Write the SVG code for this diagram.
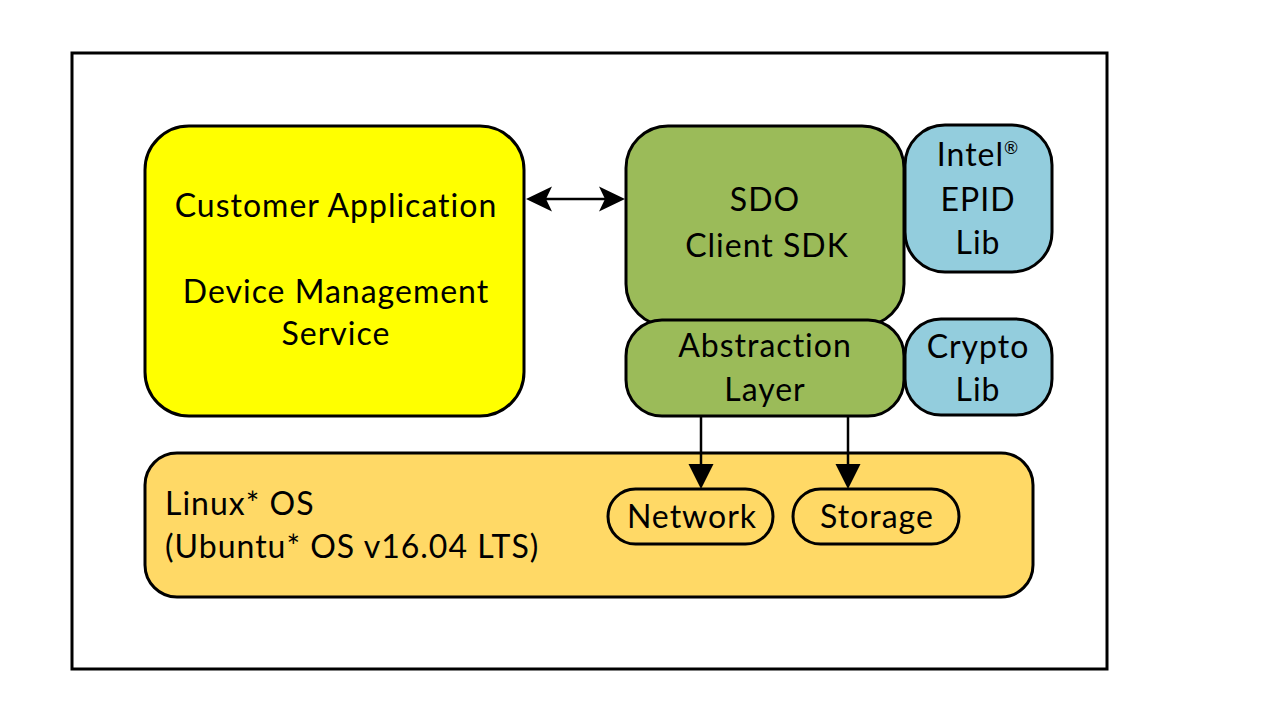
<svg xmlns="http://www.w3.org/2000/svg" width="1280" height="720" viewBox="0 0 1280 720">
<defs>
<style>
.box{stroke:#000;stroke-width:3}
.t{font-family:Lato,"Liberation Sans",sans-serif;font-size:32px;letter-spacing:1px;fill:#000;text-anchor:middle}
.tl{text-anchor:start}
.conn{stroke:#000;stroke-width:2.5;fill:none}
</style>
<marker id="stealth" viewBox="-28 -14 30 28" markerWidth="30" markerHeight="28" refX="-20" refY="0" orient="auto-start-reverse" markerUnits="userSpaceOnUse">
<path d="M0,0 L-26,-12.5 L-20,0 L-26,12.5 Z" fill="#000"/>
</marker>
<marker id="tri" viewBox="-28 -14 30 28" markerWidth="30" markerHeight="28" refX="-19" refY="0" orient="auto" markerUnits="userSpaceOnUse">
<path d="M0,0 L-25,-12.5 L-25,12.5 Z" fill="#000"/>
</marker>
</defs>
<rect width="1280" height="720" fill="#fff"/>
<rect id="frame" x="72" y="53" width="1035" height="616" fill="none" stroke="#000" stroke-width="3"/>

<g id="customer-app">
<rect class="box" x="145" y="126" width="379" height="290" rx="44" fill="#FFFF00"/>
<text class="t" x="336" y="217">Customer Application</text>
<text class="t" x="336" y="303">Device Management</text>
<text class="t" x="336" y="345">Service</text>
</g>

<g id="linux-os">
<rect class="box" x="145" y="453" width="888" height="144" rx="32" fill="#FFD966"/>
<text class="t tl" x="165" y="515">Linux* OS</text>
<text class="t tl" x="165" y="558">(Ubuntu* OS v16.04 LTS)</text>
</g>

<g id="sdo-sdk">
<rect class="box" x="626" y="126" width="278" height="200" rx="42" fill="#9BBB59"/>
<text class="t" x="765" y="211">SDO</text>
<text class="t" x="767" y="257">Client SDK</text>
</g>

<g id="abstraction">
<rect class="box" x="626" y="320" width="278" height="96" rx="36" fill="#9BBB59"/>
<text class="t" x="765" y="357">Abstraction</text>
<text class="t" x="765" y="401">Layer</text>
</g>

<g id="epid-lib">
<rect class="box" x="905" y="125" width="147" height="147" rx="40" fill="#93CDDD"/>
<text class="t" x="978" y="166">Intel<tspan font-size="17" dy="-12">®</tspan></text>
<text class="t" x="978" y="211">EPID</text>
<text class="t" x="978" y="254">Lib</text>
</g>

<g id="crypto-lib">
<rect class="box" x="905" y="319" width="147" height="96" rx="36" fill="#93CDDD"/>
<text class="t" x="978" y="358">Crypto</text>
<text class="t" x="978" y="401">Lib</text>
</g>

<g id="network">
<rect class="box" x="608" y="489" width="165" height="55" rx="27.5" fill="#FFD966"/>
<text class="t" x="692" y="528">Network</text>
</g>

<g id="storage">
<rect class="box" x="793" y="489" width="166" height="55" rx="27.5" fill="#FFD966"/>
<text class="t" x="877" y="528">Storage</text>
</g>

<g id="connectors">
<path class="conn" d="M546,199 L605,199" marker-start="url(#stealth)" marker-end="url(#stealth)"/>
<path class="conn" d="M701,416 L701,470" marker-end="url(#tri)"/>
<path class="conn" d="M848,416 L848,470" marker-end="url(#tri)"/>
</g>
</svg>
